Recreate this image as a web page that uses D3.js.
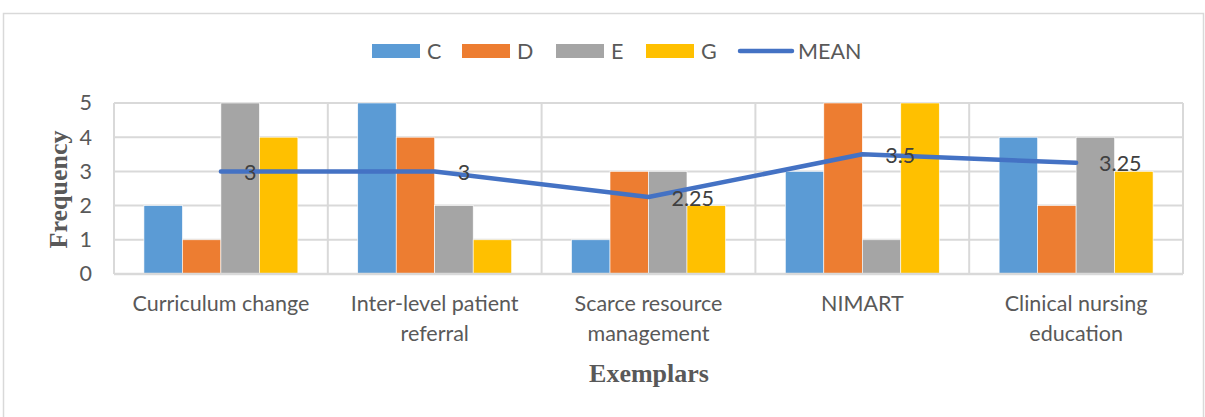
<!DOCTYPE html>
<html>
<head>
<meta charset="utf-8">
<script src="https://cdn.jsdelivr.net/npm/d3@7"></script>
<style>
  html, body { margin: 0; padding: 0; background: #fff; }
  svg { display: block; }
</style>
</head>
<body>
<svg id="chart" width="1205" height="417"></svg>
<script>
// Exemplar categories and frequency per group
const categories = ["Curriculum change", "Inter-level patient referral", "Scarce resource management", "NIMART", "Clinical nursing education"];
const seriesNames = ["C", "D", "E", "G"];
const valuesC = [2, 5, 1, 3, 4];
const valuesD = [1, 4, 3, 5, 2];
const valuesE = [5, 2, 3, 1, 4];
const valuesG = [4, 1, 2, 5, 3];
const meanValues = [3, 3, 2.25, 3.5, 3.25];
const yTicks = [0, 1, 2, 3, 4, 5];

const seriesValues = [valuesC, valuesD, valuesE, valuesG];
const colors = ["#5B9BD5", "#ED7D31", "#A5A5A5", "#FFC000"];
const meanColor = "#4472C4";
const textColor = "#595959";
const labelFont = "Lato, 'Open Sans', sans-serif";
const titleFont = "'Liberation Serif', 'Times New Roman', serif";
const fs = 21.5;

const svg = d3.select("#chart");

// outer chart frame
svg.append("rect")
  .attr("x", 3.5).attr("y", 13.5)
  .attr("width", 1200).attr("height", 430)
  .attr("fill", "#fff").attr("stroke", "#d9d9d9").attr("stroke-width", 1.5);

const plot = { left: 114, right: 1183, top: 103, bottom: 274 };

const x0 = d3.scaleBand().domain(categories).range([plot.left, plot.right]).padding(0);
const bw = x0.bandwidth();
const x1 = d3.scaleBand().domain(seriesNames).range([bw * 0.14, bw * 0.86]).padding(0);
const y = d3.scaleLinear().domain([0, 5]).range([plot.bottom, plot.top]);

// horizontal gridlines
svg.append("g")
  .selectAll("line").data(yTicks.slice(1)).join("line")
  .attr("x1", plot.left).attr("x2", plot.right)
  .attr("y1", d => y(d)).attr("y2", d => y(d))
  .attr("stroke", "#d9d9d9").attr("stroke-width", 2);

// vertical gridlines at category boundaries
const bounds = categories.map(c => x0(c)).concat([plot.right]);
svg.append("g")
  .selectAll("line").data(bounds).join("line")
  .attr("x1", d => d).attr("x2", d => d)
  .attr("y1", plot.top).attr("y2", plot.bottom)
  .attr("stroke", "#d9d9d9").attr("stroke-width", 2);

// bars
const groups = svg.append("g").selectAll("g").data(categories).join("g")
  .attr("transform", c => `translate(${x0(c)},0)`);
groups.selectAll("rect")
  .data((c, i) => seriesNames.map((s, k) => ({ s, k, v: seriesValues[k][i] })))
  .join("rect")
  .attr("x", d => x1(d.s))
  .attr("width", x1.bandwidth())
  .attr("y", d => y(d.v))
  .attr("height", d => y(0) - y(d.v))
  .attr("fill", d => colors[d.k])
  .attr("stroke", "#fff").attr("stroke-width", 0.6);

// category axis line
svg.append("line")
  .attr("x1", plot.left).attr("x2", plot.right)
  .attr("y1", plot.bottom).attr("y2", plot.bottom)
  .attr("stroke", "#d9d9d9").attr("stroke-width", 2.5);

// y axis tick labels
const yAxis = d3.axisLeft(y).tickValues(yTicks).tickFormat(d3.format("d")).tickSize(0).tickPadding(22);
const ga = svg.append("g").attr("transform", `translate(${plot.left},0)`).call(yAxis);
ga.select(".domain").remove();
ga.selectAll("text")
  .attr("font-family", labelFont).attr("font-size", fs).attr("fill", textColor);

// category labels with wrapping
const xAxis = d3.axisBottom(x0).tickSize(0).tickPadding(0);
const gx = svg.append("g").attr("transform", `translate(0,${plot.bottom})`).call(xAxis);
gx.select(".domain").remove();
gx.selectAll("text")
  .attr("font-family", labelFont).attr("font-size", fs).attr("fill", textColor)
  .attr("y", 37).attr("dy", 0)
  .each(function (d) {
    const t = d3.select(this);
    const words = d.split(" ");
    t.text(null);
    let line = [];
    let lineNo = 0;
    let tspan = t.append("tspan").attr("x", 0).attr("y", 37);
    words.forEach(w => {
      line.push(w);
      tspan.text(line.join(" "));
      if (tspan.node().getComputedTextLength() > 195 && line.length > 1) {
        line.pop();
        tspan.text(line.join(" "));
        line = [w];
        lineNo++;
        tspan = t.append("tspan").attr("x", 0).attr("y", 37 + lineNo * 30).text(w);
      }
    });
  });

// mean line
const line = d3.line()
  .x((d, i) => x0(categories[i]) + bw / 2)
  .y(d => y(d));
svg.append("path")
  .datum(meanValues)
  .attr("d", line)
  .attr("fill", "none")
  .attr("stroke", meanColor)
  .attr("stroke-width", 4.5)
  .attr("stroke-linecap", "round")
  .attr("stroke-linejoin", "round");

// mean data labels
svg.append("g").selectAll("text").data(meanValues).join("text")
  .attr("x", (d, i) => x0(categories[i]) + bw / 2 + 23)
  .attr("y", d => y(d))
  .attr("dy", "0.4em")
  .attr("font-family", labelFont).attr("font-size", fs).attr("fill", "#404040")
  .text(d => d);

// axis titles
svg.append("text")
  .attr("x", 649).attr("y", 382)
  .attr("text-anchor", "middle")
  .attr("font-family", titleFont).attr("font-weight", "bold")
  .attr("font-size", 26).attr("fill", textColor)
  .text("Exemplars");

svg.append("text")
  .attr("transform", `translate(67,${(plot.top + plot.bottom) / 2 + 1}) rotate(-90)`)
  .attr("text-anchor", "middle")
  .attr("font-family", titleFont).attr("font-weight", "bold")
  .attr("font-size", 26).attr("fill", textColor)
  .text("Frequency");

// legend
const legend = svg.append("g");
const swatchX = [372, 462, 556, 646];
seriesNames.forEach((s, k) => {
  legend.append("rect")
    .attr("x", swatchX[k]).attr("y", 44).attr("width", 48).attr("height", 14)
    .attr("fill", colors[k]);
  legend.append("text")
    .attr("x", swatchX[k] + 55).attr("y", 51).attr("dy", "0.36em")
    .attr("font-family", labelFont).attr("font-size", fs).attr("fill", textColor)
    .text(s);
});
legend.append("line")
  .attr("x1", 740).attr("x2", 792).attr("y1", 51).attr("y2", 51)
  .attr("stroke", meanColor).attr("stroke-width", 4.5).attr("stroke-linecap", "round");
legend.append("text")
  .attr("x", 798).attr("y", 51).attr("dy", "0.36em")
  .attr("font-family", labelFont).attr("font-size", fs).attr("fill", textColor)
  .text("MEAN");
</script>
</body>
</html>
